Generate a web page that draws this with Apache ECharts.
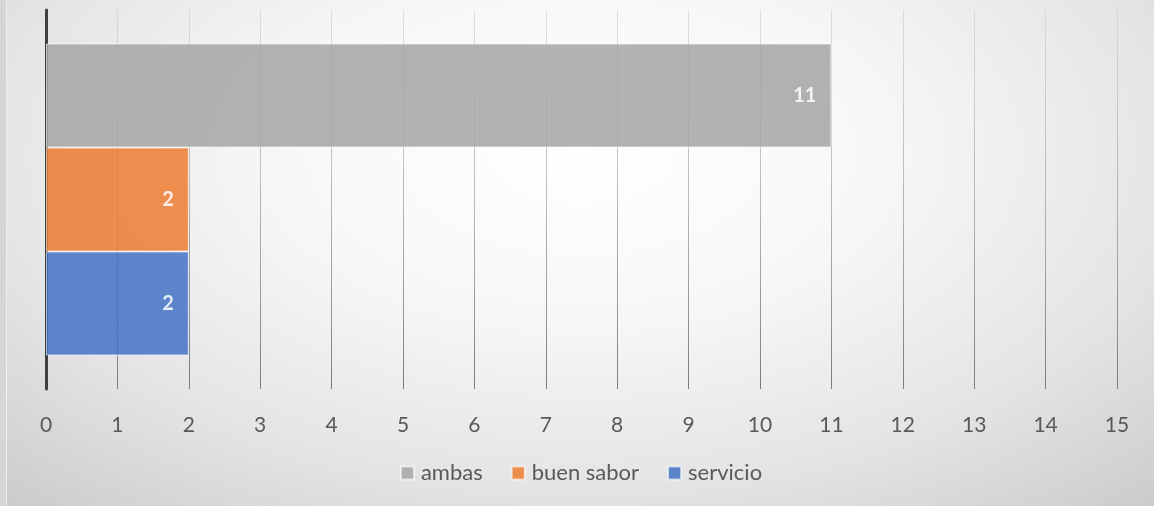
<!DOCTYPE html>
<html>
<head>
<meta charset="utf-8">
<script src="https://cdn.jsdelivr.net/npm/echarts@6/dist/echarts.min.js"></script>
<style>
html, body { margin: 0; padding: 0; background: #d6d6d6; }
#chart {
    position: absolute;
    left: 6px;
    top: 0;
    width: 1148px;
    height: 506px;
    border-left: 1px solid #efefef;
    background: radial-gradient(ellipse 75% 95% at 50% 30%, #ffffff 0%, #f7f7f7 35%, #e4e4e4 70%, #cbcbcb 100%);
}
</style>
</head>
<body>
<div id="chart"></div>
<script>
const categories = ['']
const seriesNames = ['ambas', 'buen sabor', 'servicio']
const ambas = [11]
const buenSabor = [2]
const servicio = [2]
const axisMin = 0
const axisMax = 15

const chart = echarts.init(document.getElementById('chart'))

const barLabel = {
    show: true,
    position: 'insideRight',
    distance: 15,
    color: '#ffffff',
    fontWeight: 'bold',
    fontSize: 20,
    fontFamily: 'Lato'
}

const makeSeries = (name, data, color) => ({
    name: name,
    type: 'bar',
    data: data,
    barGap: '0%',
    barCategoryGap: '17.7%',
    itemStyle: {
        color: color,
        opacity: 0.85,
        borderColor: 'rgba(255,255,255,0.7)',
        borderWidth: 1
    },
    label: barLabel,
    emphasis: { disabled: true }
})

const option = {
    animation: false,
    textStyle: { fontFamily: 'Lato' },
    grid: {
        left: 39,
        right: 38,
        top: 10,
        bottom: 117
    },
    legend: {
        data: seriesNames,
        bottom: 17,
        left: 'center',
        itemWidth: 13,
        itemHeight: 13,
        itemGap: 28,
        icon: 'rect',
        textStyle: {
            color: '#595959',
            fontSize: 22,
            fontFamily: 'Lato',
            padding: [0, 0, 0, 2]
        }
    },
    xAxis: {
        type: 'value',
        min: axisMin,
        max: axisMax,
        interval: 1,
        axisLine: { show: false },
        axisTick: { show: false },
        axisLabel: {
            color: '#595959',
            fontSize: 21,
            margin: 26,
            fontFamily: 'Lato'
        },
        splitLine: {
            lineStyle: {
                width: 1,
                color: new echarts.graphic.LinearGradient(0, 0, 0, 1, [
                    { offset: 0, color: 'rgba(200,200,200,0.5)' },
                    { offset: 1, color: 'rgba(110,110,110,0.9)' }
                ])
            }
        }
    },
    yAxis: {
        type: 'category',
        data: categories,
        axisTick: { show: false },
        axisLabel: { show: false },
        axisLine: {
            lineStyle: { color: '#404040', width: 3 }
        }
    },
    color: ['#A5A5A5', '#ED7D31', '#4472C4'],
    series: [
        makeSeries(seriesNames[0], ambas, '#A5A5A5'),
        makeSeries(seriesNames[1], buenSabor, '#ED7D31'),
        makeSeries(seriesNames[2], servicio, '#4472C4')
    ]
}

chart.setOption(option)
</script>
</body>
</html>
